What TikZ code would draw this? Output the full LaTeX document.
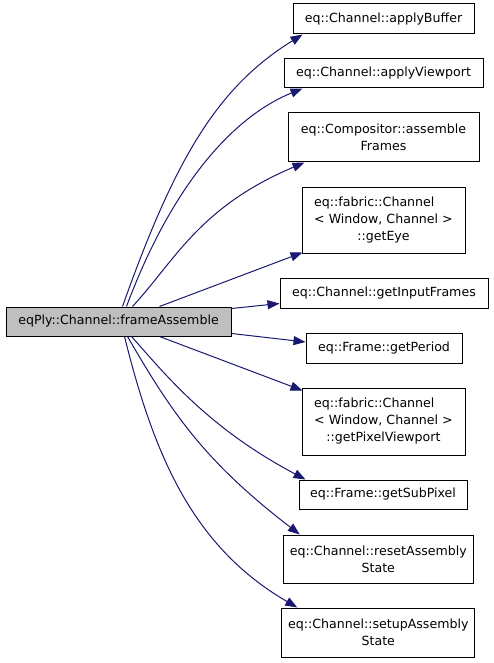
\documentclass[tikz,border=0pt]{standalone}
\usepackage{fontspec}
\setmainfont{DejaVu Sans}
\usetikzlibrary{arrows.meta,calc}
\definecolor{edgeblue}{HTML}{191970}
\definecolor{mainfill}{HTML}{BFBFBF}
\begin{document}
\begin{tikzpicture}[x=1pt,y=-1pt,
  box/.style={draw=black,line width=1pt,inner sep=0pt,align=center,
    font=\fontsize{12.6}{17}\selectfont,fill=white},
  edge/.style={draw=edgeblue,line width=1pt,
    -{Triangle[length=12pt,width=9pt]}}]
\useasboundingbox (0,0) rectangle (493,663);
% nodes
\node[box,fill=mainfill,minimum width=225pt,minimum height=29pt] (main) at (118.5,321.5) {eqPly::Channel::frameAssemble};
\node[box,minimum width=181pt,minimum height=30pt] (ab) at (383.5,19) {eq::Channel::applyBuffer};
\node[box,minimum width=199pt,minimum height=29pt] (av) at (383.5,73.5) {eq::Channel::applyViewport};
\node[box,minimum width=191pt,minimum height=49pt] (ca) at (383.5,137.5) {eq::Compositor::assemble\\Frames};
\node[box,minimum width=163pt,minimum height=66pt] (ge) at (383.5,220) {\rlap{eq::fabric::Channel}\phantom{< Window, Channel >}\\< Window, Channel >\\::getEye};
\node[box,minimum width=208pt,minimum height=30pt] (gi) at (384,293) {eq::Channel::getInputFrames};
\node[box,minimum width=156pt,minimum height=30pt] (gp) at (384,348) {eq::Frame::getPeriod};
\node[box,minimum width=163pt,minimum height=67pt] (gv) at (383.5,421.5) {\rlap{eq::fabric::Channel}\phantom{< Window, Channel >}\\< Window, Channel >\\::getPixelViewport};
\node[box,minimum width=168pt,minimum height=29pt] (gs) at (383,494.5) {eq::Frame::getSubPixel};
\node[box,minimum width=190pt,minimum height=48pt] (ra) at (378.3,559) {eq::Channel::resetAssembly\\State};
\node[box,minimum width=193pt,minimum height=49pt] (sa) at (378.3,632.5) {eq::Channel::setupAssembly\\State};
% edges
\draw[edge] ($(main.north west)+(117,0)$) .. controls (175.5,157) and (218,87) .. ($(ab.south west)+(10,0)$);
\draw[edge] ($(main.north west)+(121,0)$) .. controls (170,190) and (230,118) .. ($(av.south west)+(19,0)$);
\draw[edge] ($(main.north west)+(127,0)$) .. controls (174.7,261) and (199,207) .. ($(ca.south west)+(17,0)$);
\draw[edge] ($(main.north west)+(154,0)$) -- ($(ge.south west)+(1,-1)$);
\draw[edge] ($(main.north east)+(0,2)$) -- ($(gi.south west)+(0,-5)$);
\draw[edge] ($(main.south east)+(0,-3)$) -- ($(gp.west)+(0,-6)$);
\draw[edge] ($(main.south west)+(154,0)$) -- ($(gv.north west)+(1,3)$);
\draw[edge] ($(main.south west)+(126,0)$) .. controls (168,377.6) and (209.2,428.3) .. ($(gs.north west)+(7,0)$);
\draw[edge] ($(main.south west)+(122,0)$) .. controls (172.5,414.2) and (205.2,461.8) .. ($(ra.north west)+(17,0)$);
\draw[edge] ($(main.south west)+(119,0)$) .. controls (155,460) and (195,548) .. ($(sa.north west)+(16,0)$);
\end{tikzpicture}
\end{document}
